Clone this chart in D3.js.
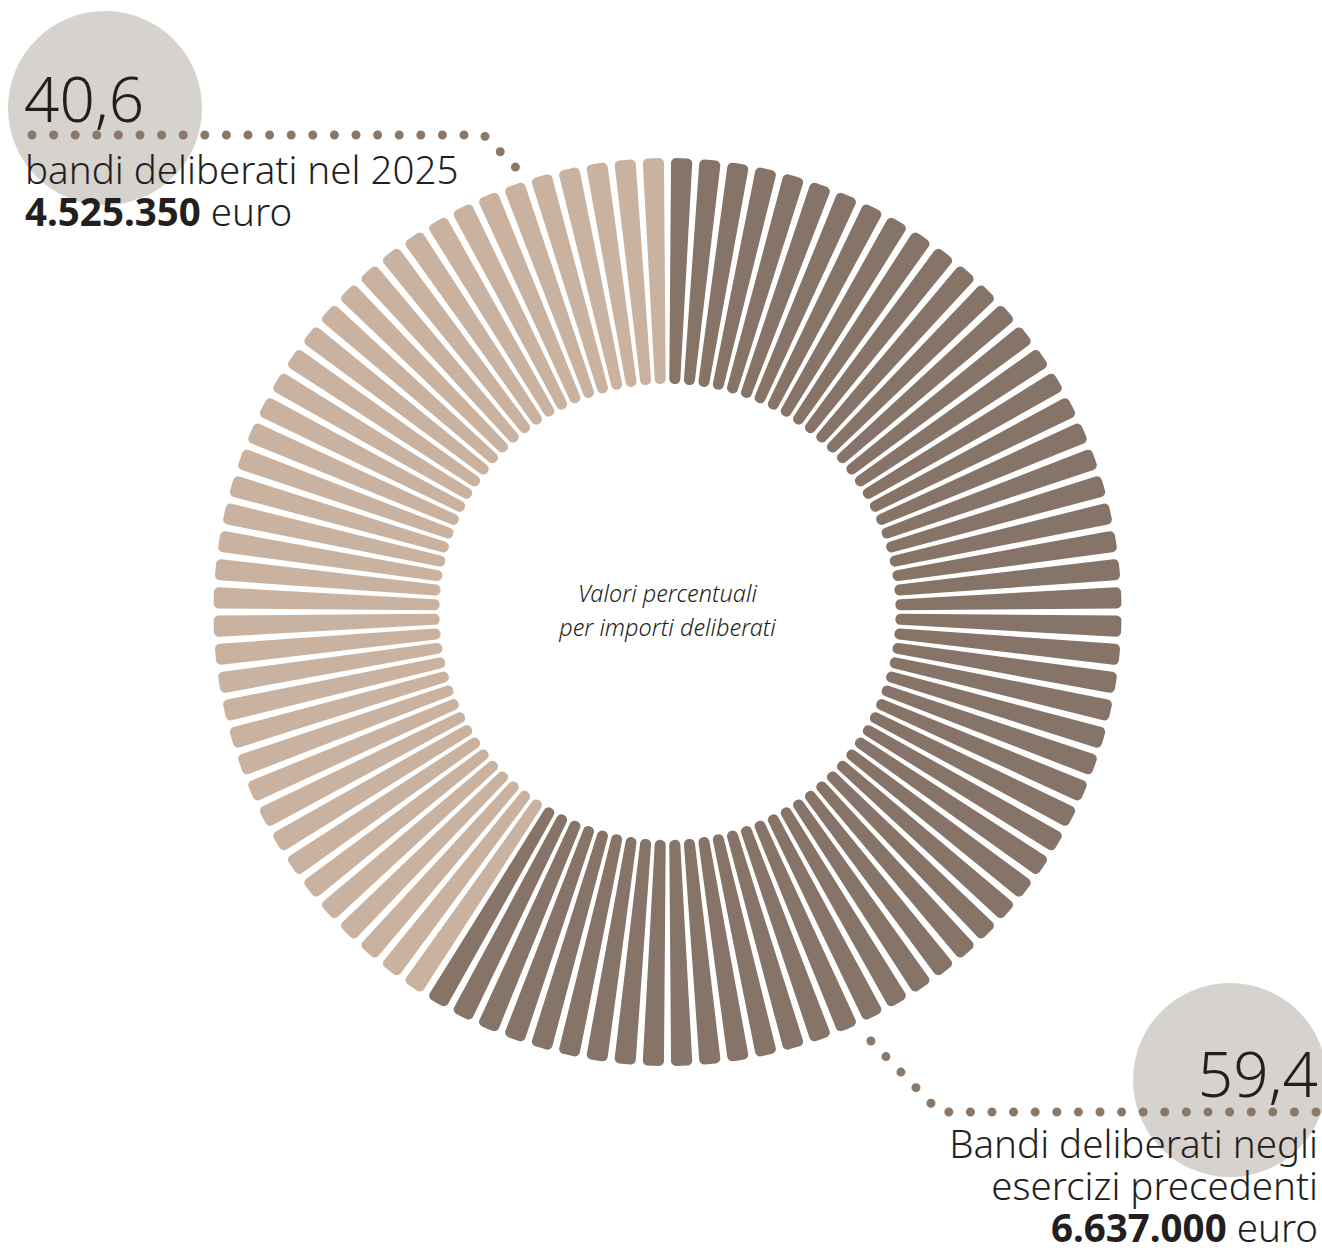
<!DOCTYPE html>
<html>
<head>
<meta charset="utf-8">
<script src="https://cdn.jsdelivr.net/npm/d3@7"></script>
<style>
  body { margin: 0; background: #fff; }
  text { font-family: "Noto Sans", "Open Sans", sans-serif; fill: #231f20; }
</style>
</head>
<body>
<div id="container"></div>
<script>
// shares (percent) of deliberated amounts
const categories = ["precedenti", "2025"];
const shares = [59.4, 40.6];
const bigLabels = ["59,4", "40,6"];
const amounts = ["6.637.000", "4.525.350"];
const captions = [["Bandi deliberati negli", "esercizi precedenti"], ["bandi deliberati nel 2025"]];
const barCount = 100;

const colors = { "precedenti": "#857467", "2025": "#c9b3a0" };

const width = 1322, height = 1248;
const cx = 667.5, cy = 612;
const innerR = 228, outerR = 454;

const svg = d3.select('#container').append('svg')
              .attr('width', width)
              .attr('height', height);

// one bar per percentage point, coloured by which share it falls in
const darkBars = Math.round(shares[0]);
const bars = d3.range(barCount).map(i => ({ i, cat: i < darkBars ? categories[0] : categories[1] }));

const angle = d3.scaleBand()
                .domain(bars.map(d => d.i))
                .range([0, 2 * Math.PI])
                .paddingInner(0.25)
                .paddingOuter(0.125);

const arc = d3.arc()
              .innerRadius(innerR)
              .outerRadius(outerR)
              .startAngle(d => angle(d.i))
              .endAngle(d => angle(d.i) + angle.bandwidth())
              .cornerRadius(5);

// grey bubbles behind the big numbers
svg.append('circle').attr('cx', 105).attr('cy', 108).attr('r', 97).attr('fill', '#d6d2ce');
svg.append('circle').attr('cx', 1230).attr('cy', 1080).attr('r', 97).attr('fill', '#d6d2ce');

const g = svg.append('g').attr('transform', `translate(${cx},${cy})`);
g.selectAll('path.bar')
 .data(bars)
 .enter()
 .append('path')
 .attr('class', 'bar')
 .attr('d', arc)
 .attr('fill', d => colors[d.cat]);

// dotted leaders, anchored just outside the ring
const polar = (deg, r) => {
    const a = deg * Math.PI / 180;
    return [cx + r * Math.sin(a), cy - r * Math.cos(a)];
};
const line = d3.line();
const dotted = pts => svg.append('path')
                         .attr('d', line(pts))
                         .attr('fill', 'none')
                         .attr('stroke', '#8a7869')
                         .attr('stroke-width', 9)
                         .attr('stroke-linecap', 'round')
                         .attr('stroke-dasharray', '0 21.6');

const topEnd = polar(342, 456);
dotted([[32, 135], [topEnd[0] - 43, 135], topEnd]);
const botStart = polar(155, 466);
dotted([[1316, 1112], [botStart[0] + 75, 1112], botStart]);

const bigSize = 62, capSize = 38.5;

// top-left label (2025)
svg.append('text').attr('x', 24).attr('y', 122)
   .attr('font-size', bigSize).attr('font-weight', 300).text(bigLabels[1]);
svg.append('text').attr('x', 25).attr('y', 184)
   .attr('font-size', capSize).attr('font-weight', 300).text(captions[1][0]);
const t1 = svg.append('text').attr('x', 25).attr('y', 226).attr('font-size', capSize);
t1.append('tspan').attr('font-weight', 700).text(amounts[1]);
t1.append('tspan').attr('font-weight', 300).text(' euro');

// bottom-right label (previous years)
const rx = 1318;
svg.append('text').attr('x', rx).attr('y', 1097).attr('text-anchor', 'end')
   .attr('font-size', bigSize).attr('font-weight', 300).text(bigLabels[0]);
captions[0].forEach((c, i) => {
    svg.append('text').attr('x', rx).attr('y', 1158 + i * 42).attr('text-anchor', 'end')
       .attr('font-size', capSize).attr('font-weight', 300).text(c);
});
const t2 = svg.append('text').attr('x', rx).attr('y', 1242).attr('text-anchor', 'end').attr('font-size', capSize);
t2.append('tspan').attr('font-weight', 700).text(amounts[0]);
t2.append('tspan').attr('font-weight', 300).text(' euro');

// centre note
[['Valori percentuali', 602], ['per importi deliberati', 636]].forEach(([s, y]) => {
    svg.append('text').attr('x', cx).attr('y', y).attr('text-anchor', 'middle')
       .attr('font-size', 23.5).attr('font-style', 'italic').attr('font-weight', 300).attr('fill', '#3a3536')
       .text(s);
});
</script>
</body>
</html>
